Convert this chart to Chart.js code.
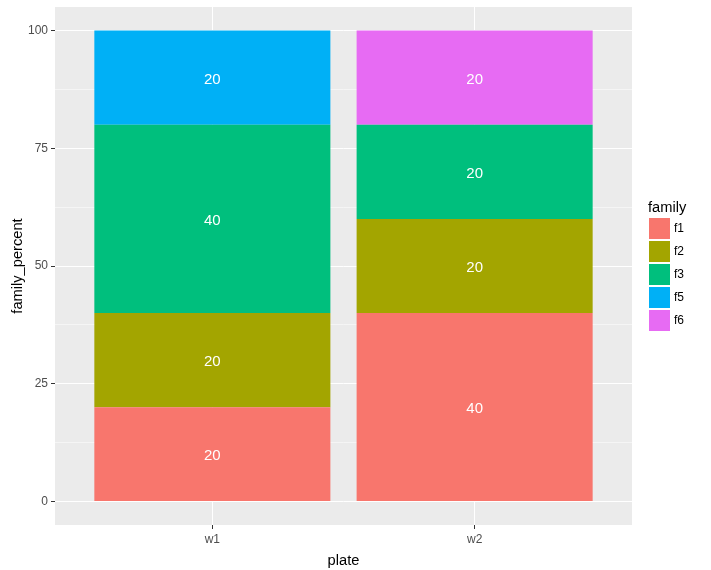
<!DOCTYPE html>
<html>
<head>
<meta charset="utf-8">
<script src="https://cdn.jsdelivr.net/npm/chart.js@4.4.1/dist/chart.umd.min.js"></script>
<style>
  html,body{margin:0;padding:0;background:#fff;}
  #wrap{width:711px;height:570px;}
</style>
</head>
<body>
<div id="wrap"><canvas id="grafico"></canvas></div>
<script>
/* ===== dados ===== */
const plates = ['w1', 'w2'];
const families = ['f1', 'f2', 'f3', 'f5', 'f6'];
const familyColors = ['#F8766D', '#A3A500', '#00BF7D', '#00B0F6', '#E76BF3'];
// family_percent por plate (null = ausente)
const pctF1 = [20, 40];
const pctF2 = [20, 20];
const pctF3 = [40, 20];
const pctF5 = [20, null];
const pctF6 = [null, 20];
const yTicks = [0, 25, 50, 75, 100];
const yMinor = [12.5, 37.5, 62.5, 87.5];

const FONT = '"Liberation Sans", Arial, sans-serif';
const series = [pctF1, pctF2, pctF3, pctF5, pctF6];

const datasets = families.map((f, i) => ({
  label: f,
  data: series[i].map((v, j) => v == null ? null : { x: j + 1, y: v }).filter(Boolean),
  backgroundColor: familyColors[i],
  borderWidth: 0,
  categoryPercentage: 0.9,
  barPercentage: 1
}));

/* ===== plugins ===== */
const painelFundo = {
  id: 'painelFundo',
  beforeDraw(chart){
    const { ctx, chartArea: a } = chart;
    ctx.save();
    ctx.fillStyle = '#EBEBEB';
    ctx.fillRect(a.left, a.top, a.right - a.left, a.bottom - a.top);
    ctx.restore();
  }
};

const rotulosBarras = {
  id: 'rotulosBarras',
  afterDatasetsDraw(chart){
    const { ctx } = chart;
    ctx.save();
    ctx.fillStyle = '#FFFFFF';
    ctx.font = '15px ' + FONT;
    ctx.textAlign = 'center';
    ctx.textBaseline = 'middle';
    chart.data.datasets.forEach((ds, i) => {
      const meta = chart.getDatasetMeta(i);
      meta.data.forEach((bar, j) => {
        const v = ds.data[j].y;
        ctx.fillText(String(v), bar.x, (bar.y + bar.base) / 2 + 2);
      });
    });
    ctx.restore();
  }
};

const legendaManual = {
  id: 'legendaManual',
  afterDraw(chart){
    const { ctx } = chart;
    ctx.save();
    ctx.fillStyle = '#000';
    ctx.font = '14.67px ' + FONT;
    ctx.textBaseline = 'alphabetic';
    ctx.fillText('family', 648, 212);
    ctx.font = '12px ' + FONT;
    ctx.textBaseline = 'middle';
    families.forEach((f, i) => {
      const y = 218 + i * 23;
      ctx.fillStyle = familyColors[i];
      ctx.fillRect(649, y, 21, 21);
      ctx.fillStyle = '#000';
      ctx.fillText(f, 674, y + 11);
    });
    ctx.restore();
  }
};

/* ===== gráfico ===== */
new Chart(document.getElementById('grafico'), {
  type: 'bar',
  data: { datasets },
  options: {
    responsive: true,
    maintainAspectRatio: false,
    animation: false,
    layout: { padding: { top: 7, right: 79, left: 0, bottom: 0 } },
    plugins: { legend: { display: false }, tooltip: { enabled: false } },
    scales: {
      x: {
        type: 'linear',
        stacked: true,
        min: 0.4, max: 2.6,
        offset: false,
        afterBuildTicks(s){ s.ticks = plates.map((p, i) => ({ value: i + 1 })); },
        afterFit(s){ s.height = 45; s.paddingLeft = 0; s.paddingRight = 0; },
        ticks: {
          color: '#4D4D4D',
          font: { family: FONT, size: 12 },
          padding: 3,
          callback: (v) => plates[Math.round(v) - 1] || ''
        },
        grid: { color: '#FFFFFF', lineWidth: 1, tickLength: 4, tickColor: '#333333', offset: false },
        border: { display: false },
        title: {
          display: true, text: 'plate', color: '#000',
          font: { family: FONT, size: 14.67 }, padding: { top: 8, bottom: 0 }
        }
      },
      y: {
        stacked: true,
        min: -5, max: 105,
        afterBuildTicks(s){
          s.ticks = yTicks.concat(yMinor).sort((a, b) => a - b).map(v => ({ value: v }));
        },
        afterFit(s){ s.width = 55; s.paddingTop = 0; s.paddingBottom = 0; },
        ticks: {
          color: '#4D4D4D',
          font: { family: FONT, size: 12 },
          padding: 3,
          callback: (v) => yTicks.includes(v) ? String(v) : ''
        },
        grid: {
          color: '#FFFFFF',
          lineWidth: (c) => yTicks.includes(c.tick && c.tick.value) ? 1 : 0.5,
          tickLength: 4,
          tickColor: (c) => yTicks.includes(c.tick && c.tick.value) ? '#333333' : 'rgba(0,0,0,0)'
        },
        border: { display: false },
        title: {
          display: true, text: 'family_percent', color: '#000',
          font: { family: FONT, size: 14.67 }, padding: { top: 9, bottom: 0 }
        }
      }
    }
  },
  plugins: [painelFundo, rotulosBarras, legendaManual]
});
</script>
</body>
</html>
